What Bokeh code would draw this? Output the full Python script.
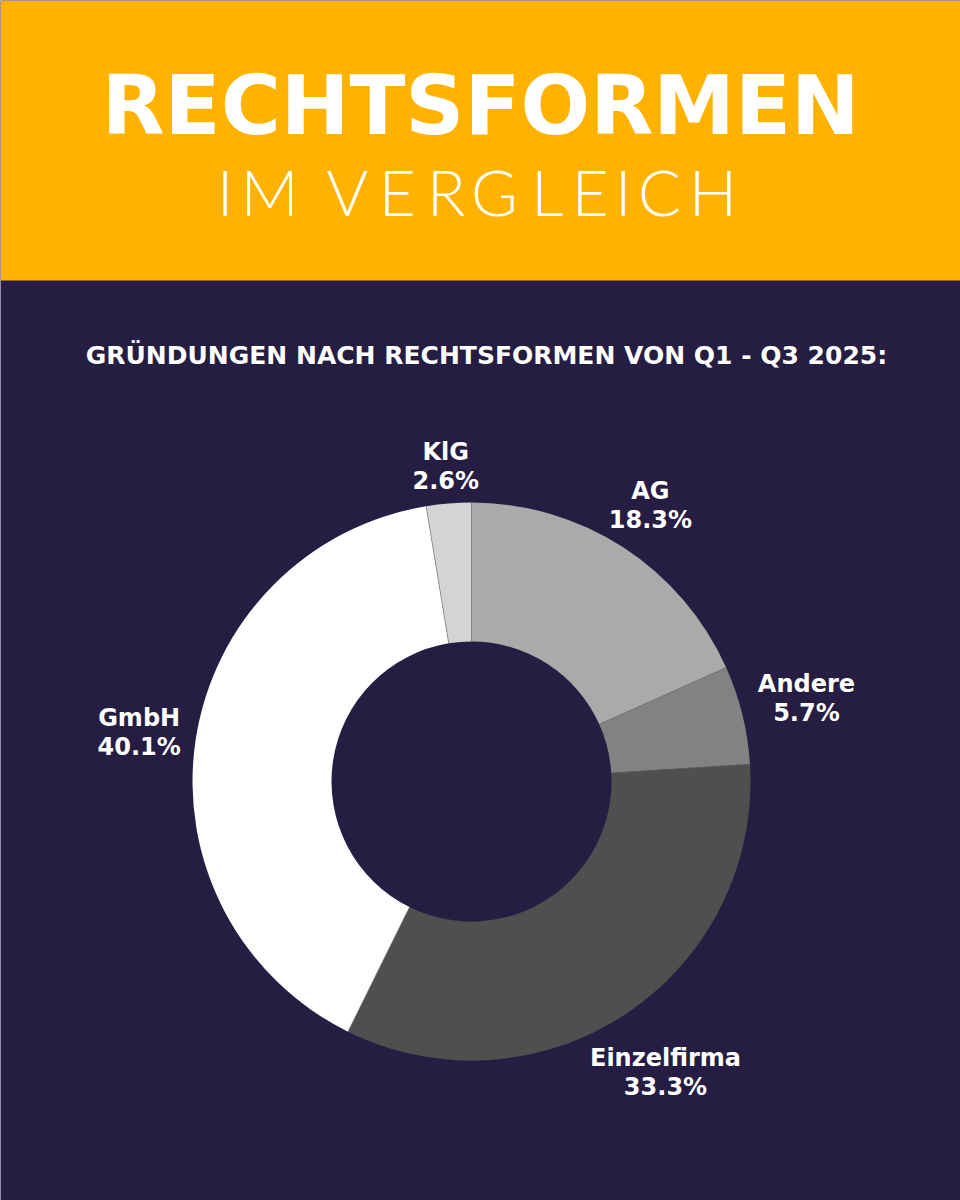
import numpy as np
from bokeh.plotting import figure
from bokeh.models import Range1d, ColumnDataSource
from bokeh.core.properties import value
from bokeh.embed import file_html
from bokeh.resources import INLINE

# --- data -------------------------------------------------------------
categories = ["AG", "Andere", "Einzelfirma", "GmbH", "KlG"]
shares = [18.3, 5.7, 33.3, 40.1, 2.6]
slice_colors = ["#aaaaaa", "#828282", "#4f4f4f", "#ffffff", "#d4d4d4"]

title_main = "RECHTSFORMEN"
title_sub = "IM VERGLEICH"
chart_heading = "GRÜNDUNGEN NACH RECHTSFORMEN VON Q1 - Q3 2025:"

# --- layout -----------------------------------------------------------
W, H = 960, 1200
BG = "#261d42"
HEADER = "#ffb200"
CX, CY = 471, H - 781          # donut centre in data units (y upward)
R_OUT, R_IN = 279, 140
label_radius = [329, 345, 350, 336, 316]
BOLD = value("DejaVu Sans")
LIGHT = value("Lato Light, Lato")
# letter-spaced subtitle: centre of each character along the line
sub_char_x = [224.5, 269, None, 346.7, 396.5, 445.6, 493.8, 546.8, 589.6, 622.5, 659, 712.5]

p = figure(width=W, height=H, x_range=Range1d(0, W), y_range=Range1d(0, H),
           output_backend="svg", toolbar_location=None, min_border=0)
p.axis.visible = False
p.grid.visible = False
p.outline_line_color = None
p.background_fill_color = BG
p.border_fill_color = BG


def baseline(px_from_top, size):
    """data-space y for a text baseline given in pixels from the top"""
    return H - px_from_top + 0.37 * size


# header band
p.quad(left=[0], right=[W], top=[H], bottom=[H - 280], color=HEADER, line_color=None)

p.text(x=[480], y=[baseline(135, 82)], text=[title_main], text_font=BOLD,
       text_font_style="bold", text_font_size="82px", text_color="white",
       text_align="center", text_baseline="alphabetic")

chars = [(x, c) for x, c in zip(sub_char_x, title_sub) if x is not None]
p.text(x=[x for x, _ in chars], y=[baseline(215, 64)] * len(chars),
       text=[c for _, c in chars], text_font=LIGHT, text_font_size="64px",
       text_color="white", text_align="center", text_baseline="alphabetic")

p.text(x=[486], y=[baseline(364, 25)], text=[chart_heading], text_font=BOLD,
       text_font_style="bold", text_font_size="25px", text_color="white",
       text_align="center", text_baseline="alphabetic")

# donut slices, clockwise from 12 o'clock
frac = np.array(shares) / 100.0
cum = np.concatenate([[0.0], np.cumsum(frac)])
start = np.pi / 2 - 2 * np.pi * cum[:-1]
end = np.pi / 2 - 2 * np.pi * cum[1:]
src = ColumnDataSource(dict(start=start, end=end, color=slice_colors))
p.annular_wedge(x=CX, y=CY, inner_radius=R_IN, outer_radius=R_OUT,
                start_angle="start", end_angle="end", direction="clock",
                fill_color="color", line_color=None, source=src)

# thin separators between slices
b_ang = np.pi / 2 - 2 * np.pi * cum[:-1]
p.segment(x0=CX + R_IN * np.cos(b_ang), y0=CY + R_IN * np.sin(b_ang),
          x1=CX + R_OUT * np.cos(b_ang), y1=CY + R_OUT * np.sin(b_ang),
          line_color="#777777", line_width=1, line_alpha=0.6)

# labels placed along each slice's mid angle
mid = np.pi / 2 - 2 * np.pi * (cum[:-1] + cum[1:]) / 2
lx = CX + np.array(label_radius) * np.cos(mid)
ly = CY + np.array(label_radius) * np.sin(mid)
pct = [f"{v:.1f}%" for v in shares]
LS = 24
p.text(x=lx, y=ly + 5.5 + 0.37 * LS, text=categories, text_font=BOLD,
       text_font_style="bold", text_font_size=f"{LS}px", text_color="white",
       text_align="center", text_baseline="alphabetic")
p.text(x=lx, y=ly - 23.5 + 0.37 * LS, text=pct, text_font=BOLD,
       text_font_style="bold", text_font_size=f"{LS}px", text_color="white",
       text_align="center", text_baseline="alphabetic")

open("out.html", "w").write(file_html(p, INLINE))
